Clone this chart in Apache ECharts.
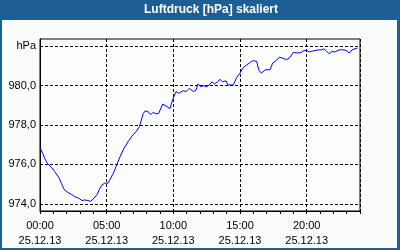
<!DOCTYPE html>
<html>
<head>
<meta charset="utf-8">
<script src="https://cdn.jsdelivr.net/npm/echarts@6/dist/echarts.min.js"></script>
<style>
html,body{margin:0;padding:0;background:#fafcfa;}
#c{width:400px;height:250px;}
</style>
</head>
<body>
<div id="c"></div>
<script>
var title = 'Luftdruck [hPa] skaliert';
var dateLabel = '25.12.13';
var xTickHours = [0, 5, 10, 15, 20];
var yTickValues = [974, 976, 978, 980, 982];
var yUnitLabel = 'hPa';
var hours = [0,0.2,0.35,0.55,0.85,1.1,1.4,1.6,1.8,2.1,2.35,2.6,2.9,3.15,3.35,3.6,3.8,4.05,4.3,4.45,4.65,4.85,5.1,5.2,5.5,5.7,6.0,6.3,6.6,6.9,7.2,7.45,7.6,7.75,7.9,8.1,8.3,8.5,8.7,8.9,9.2,9.45,9.75,9.95,10.2,10.4,10.5,10.75,10.95,11.2,11.5,11.7,11.85,12.05,12.25,12.5,12.7,12.9,13.1,13.3,13.5,13.7,13.95,14.1,14.5,14.75,15.0,15.25,15.45,15.6,15.95,16.1,16.25,16.4,16.6,16.7,16.9,17.25,17.45,17.7,17.95,18.2,18.5,18.75,19.0,19.3,19.6,19.8,20.0,20.2,20.5,20.9,21.1,21.3,21.5,21.7,21.9,22.1,22.45,22.8,23.0,23.2,23.4,23.55,23.8];
var pressure = [976.85,976.57,976.31,976.06,975.86,975.64,975.35,975.05,974.74,974.57,974.49,974.37,974.29,974.17,974.20,974.17,974.13,974.29,974.49,974.74,974.96,975.05,975.05,975.18,975.55,975.89,976.39,976.82,977.15,977.44,977.66,977.91,978.25,978.59,978.72,978.67,978.54,978.64,978.56,978.59,979.06,978.96,978.83,979.30,979.69,979.61,979.61,979.74,979.69,979.86,979.69,979.77,980.08,979.94,979.99,979.94,980.03,980.19,980.08,980.19,980.31,980.19,980.24,980.03,980.03,980.41,980.63,980.92,981.02,980.97,981.26,981.31,981.23,980.80,980.63,980.67,980.80,980.80,981.14,981.26,981.44,981.39,981.31,981.43,981.68,981.65,981.68,981.78,981.78,981.70,981.76,981.81,981.81,981.86,981.73,981.61,981.73,981.70,981.81,981.81,981.76,981.65,981.81,981.86,981.90];

var data = hours.map(function(h, i){ return [h, pressure[i]]; });
function pad(n){ return (n < 10 ? '0' : '') + n; }
var font = {fontFamily: 'Liberation Sans', fontSize: 11, color: '#000'};
var blue = '#1d5e94';

var chart = echarts.init(document.getElementById('c'), null, {renderer: 'canvas'});
chart.setOption({
  animation: false,
  backgroundColor: '#fafcfa',
  graphic: [
    {type: 'rect', shape: {x: 0, y: 0, width: 400, height: 20}, style: {fill: blue}, silent: true},
    {type: 'rect', shape: {x: 0, y: 0, width: 2, height: 250}, style: {fill: blue}, silent: true},
    {type: 'rect', shape: {x: 397, y: 0, width: 3, height: 250}, style: {fill: blue}, silent: true},
    {type: 'rect', shape: {x: 0, y: 248, width: 400, height: 2}, style: {fill: blue}, silent: true},
    {type: 'text', x: 211, y: 10, style: {text: title, fill: '#fff', font: 'bold 12px "Liberation Sans"', textAlign: 'center', textVerticalAlign: 'middle'}, silent: true}
  ],
  grid: {left: 40, top: 39, right: 40, bottom: 39, show: true, borderColor: '#000', borderWidth: 1, backgroundColor: '#fcfefc'},
  xAxis: [
    {
      type: 'value', min: 0, max: 24, interval: 5, position: 'bottom',
      axisLine: {show: true, lineStyle: {color: '#000', width: 1}},
      axisTick: {show: false},
      axisLabel: Object.assign({
        customValues: xTickHours, margin: 7, lineHeight: 15,
        formatter: function(v){ return pad(v) + ':00\n' + dateLabel; }
      }, font),
      splitLine: {show: true, lineStyle: {color: '#000', type: [3, 2], width: 1}}
    },
    {
      type: 'value', min: 0, max: 24, interval: 1, position: 'bottom',
      axisLine: {show: false},
      axisTick: {show: true, length: 3, lineStyle: {color: '#000'}},
      axisLabel: {show: false},
      splitLine: {show: false}
    }
  ],
  yAxis: {
    type: 'value', min: 973.64, max: 982.36,
    axisLine: {show: true, lineStyle: {color: '#000', width: 1}},
    axisTick: {show: false, customValues: yTickValues},
    axisLabel: Object.assign({
      customValues: yTickValues, margin: 4,
      formatter: function(v){ return v === 982 ? yUnitLabel : v.toFixed(1).replace('.', ','); }
    }, font),
    splitLine: {show: true, lineStyle: {color: '#000', type: [3, 2], width: 1}}
  },
  series: [{
    type: 'line', xAxisIndex: 0, data: data, showSymbol: false, symbol: 'none',
    lineStyle: {color: '#0000ff', width: 1}
  }]
});
</script>
</body>
</html>
